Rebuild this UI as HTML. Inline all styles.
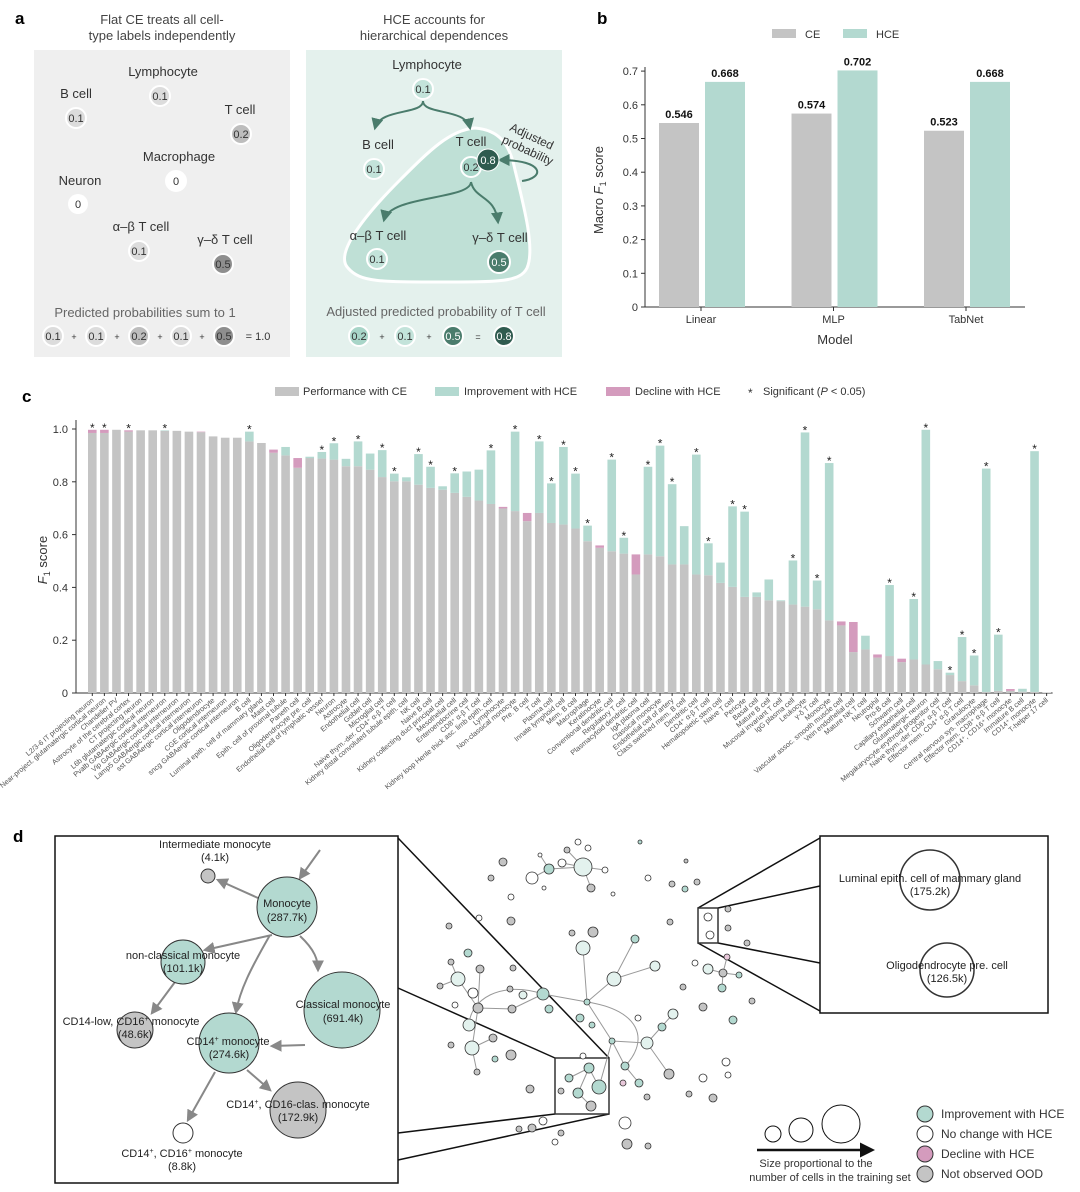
<!DOCTYPE html>
<html><head><meta charset="utf-8">
<style>
body{margin:0;background:#fff;}
svg{display:block;font-family:"Liberation Sans",sans-serif;}
.pl{font-weight:bold;font-size:17px;fill:#000}
.t{fill:#333}
</style></head>
<body>
<svg id="fig" width="1080" height="1192" viewBox="0 0 1080 1192">
<defs>
<marker id="ar" viewBox="0 0 10 10" refX="8" refY="5" markerWidth="6" markerHeight="6" orient="auto-start-reverse"><path d="M0,0L10,5L0,10z" fill="#4a7c6c"/></marker>
<marker id="ag" viewBox="0 0 10 10" refX="8" refY="5" markerWidth="6" markerHeight="6" orient="auto"><path d="M0,0L10,5L0,10z" fill="#888"/></marker>
<marker id="ak" viewBox="0 0 10 10" refX="8" refY="5" markerWidth="6" markerHeight="6" orient="auto"><path d="M0,0L10,5L0,10z" fill="#111"/></marker>
</defs>

<!-- Panel a -->
<g>
<text class="pl" x="15" y="24">a</text>
<text x="162" y="24" text-anchor="middle" font-size="13" fill="#444">Flat CE treats all cell-</text>
<text x="162" y="40" text-anchor="middle" font-size="13" fill="#444">type labels independently</text>
<rect x="34" y="50" width="256" height="307" fill="#efefef"/>
<g font-size="13" fill="#333" text-anchor="middle">
<text x="163" y="76">Lymphocyte</text><circle cx="160" cy="96" r="10" fill="#dcdcdc" stroke="#fff" stroke-width="2"/><text x="160" y="100" font-size="11">0.1</text>
<text x="76" y="98">B cell</text><circle cx="76" cy="118" r="10" fill="#dcdcdc" stroke="#fff" stroke-width="2"/><text x="76" y="122" font-size="11">0.1</text>
<text x="240" y="114">T cell</text><circle cx="241" cy="134" r="10" fill="#bdbdbd" stroke="#fff" stroke-width="2"/><text x="241" y="138" font-size="11">0.2</text>
<text x="179" y="161">Macrophage</text><circle cx="176" cy="181" r="10" fill="#fff" stroke="#fff" stroke-width="2"/><text x="176" y="185" font-size="11">0</text>
<text x="80" y="185">Neuron</text><circle cx="78" cy="204" r="10" fill="#fff"/><text x="78" y="208" font-size="11">0</text>
<text x="141" y="231">α–β T cell</text><circle cx="139" cy="251" r="10" fill="#dcdcdc" stroke="#fff" stroke-width="2"/><text x="139" y="255" font-size="11">0.1</text>
<text x="225" y="244">γ–δ T cell</text><circle cx="223" cy="264" r="10" fill="#8e8e8e" stroke="#fff" stroke-width="2"/><text x="223" y="268" font-size="11">0.5</text>
<text x="145" y="317" fill="#666">Predicted probabilities sum to 1</text>
</g>
<g font-size="11" text-anchor="middle" fill="#333">
<circle cx="53" cy="336" r="10" fill="#dcdcdc" stroke="#fff" stroke-width="2"/><text x="53" y="340">0.1</text><text x="74" y="340" font-size="9">+</text>
<circle cx="96" cy="336" r="10" fill="#dcdcdc" stroke="#fff" stroke-width="2"/><text x="96" y="340">0.1</text><text x="117" y="340" font-size="9">+</text>
<circle cx="139" cy="336" r="10" fill="#bdbdbd" stroke="#fff" stroke-width="2"/><text x="139" y="340">0.2</text><text x="160" y="340" font-size="9">+</text>
<circle cx="181" cy="336" r="10" fill="#dcdcdc" stroke="#fff" stroke-width="2"/><text x="181" y="340">0.1</text><text x="202" y="340" font-size="9">+</text>
<circle cx="224" cy="336" r="10" fill="#8e8e8e" stroke="#fff" stroke-width="2"/><text x="224" y="340">0.5</text><text x="258" y="340">= 1.0</text>
</g>
<text x="434" y="24" text-anchor="middle" font-size="13" fill="#444">HCE accounts for</text>
<text x="434" y="40" text-anchor="middle" font-size="13" fill="#444">hierarchical dependences</text>
<rect x="306" y="50" width="256" height="307" fill="#e4f1ed"/>
<path d="M400,180 C430,150 450,130 475,128 C500,130 510,145 515,170 C525,210 535,250 527,268 C520,282 500,282 440,282 C380,282 360,282 348,268 C335,255 360,220 400,180Z" fill="#bfe0d6" stroke="#fff" stroke-width="3"/>
<g fill="none" stroke="#4a7c6c" stroke-width="2">
<path d="M423,101 C423,115 380,108 375,128" marker-end="url(#ar)"/>
<path d="M423,101 C423,115 466,108 470,128" marker-end="url(#ar)"/>
<path d="M471,182 C470,200 390,195 384,220" marker-end="url(#ar)"/>
<path d="M471,182 C475,200 495,195 498,222" marker-end="url(#ar)"/>
<path d="M522,181 C545,178 545,160 500,160" marker-end="url(#ar)"/>
</g>
<g font-size="13" fill="#333" text-anchor="middle">
<text x="427" y="69">Lymphocyte</text><circle cx="423" cy="89" r="10" fill="#c3e3da" stroke="#fff" stroke-width="2"/><text x="423" y="93" font-size="11">0.1</text>
<text x="378" y="149">B cell</text><circle cx="374" cy="169" r="10" fill="#c3e3da" stroke="#fff" stroke-width="2"/><text x="374" y="173" font-size="11">0.1</text>
<text x="471" y="146">T cell</text><circle cx="471" cy="167" r="10" fill="#a8d5c8" stroke="#fff" stroke-width="2"/><text x="471" y="171" font-size="11">0.2</text>
<circle cx="488" cy="160" r="11" fill="#2f5b4f" stroke="#fff" stroke-width="1"/><text x="488" y="164" font-size="11" fill="#fff">0.8</text>
<text x="378" y="240">α–β T cell</text><circle cx="377" cy="259" r="10" fill="#c3e3da" stroke="#fff" stroke-width="2"/><text x="377" y="263" font-size="11">0.1</text>
<text x="500" y="242">γ–δ T cell</text><circle cx="499" cy="262" r="11" fill="#4a7c6c" stroke="#fff" stroke-width="2"/><text x="499" y="266" font-size="11" fill="#fff">0.5</text>
<text x="530" y="140" transform="rotate(25 530 140)" font-size="12">Adjusted</text>
<text x="526" y="154" transform="rotate(25 526 154)" font-size="12">probability</text>
<text x="436" y="316" fill="#666">Adjusted predicted probability of T cell</text>
</g>
<g font-size="11" text-anchor="middle" fill="#333">
<circle cx="359" cy="336" r="10" fill="#a8d5c8" stroke="#fff" stroke-width="2"/><text x="359" y="340">0.2</text><text x="382" y="340" font-size="9">+</text>
<circle cx="405" cy="336" r="10" fill="#c3e3da" stroke="#fff" stroke-width="2"/><text x="405" y="340">0.1</text><text x="429" y="340" font-size="9">+</text>
<circle cx="453" cy="336" r="10" fill="#4a7c6c" stroke="#fff" stroke-width="2"/><text x="453" y="340" fill="#fff">0.5</text><text x="478" y="340" font-size="9">=</text>
<circle cx="504" cy="336" r="10" fill="#2f5b4f" stroke="#fff" stroke-width="2"/><text x="504" y="340" fill="#fff">0.8</text>
</g>
</g>

<!-- Panel b -->
<g id="panelB">
<text class="pl" x="597" y="24">b</text>
<rect x="772" y="29" width="24" height="9" fill="#c4c4c4"/>
<text x="805" y="38" font-size="11" fill="#333">CE</text>
<rect x="843" y="29" width="24" height="9" fill="#b3d9d0"/>
<text x="876" y="38" font-size="11" fill="#333">HCE</text>
<text transform="translate(603 190) rotate(-90)" text-anchor="middle" font-size="13" fill="#333">Macro <tspan font-style="italic">F</tspan><tspan font-size="9" dy="3">1</tspan><tspan dy="-3"> score</tspan></text>
<text x="835" y="344" text-anchor="middle" font-size="13" fill="#333">Model</text>
</g>

<!-- Panel c -->
<g id="panelC">
<text class="pl" x="22" y="402">c</text>
<rect x="275" y="387" width="24" height="9" fill="#c4c4c4"/><text x="303" y="395" font-size="11" fill="#333">Performance with CE</text>
<rect x="435" y="387" width="24" height="9" fill="#b3d9d0"/><text x="464" y="395" font-size="11" fill="#333">Improvement with HCE</text>
<rect x="606" y="387" width="24" height="9" fill="#d49bbd"/><text x="635" y="395" font-size="11" fill="#333">Decline with HCE</text>
<text x="748" y="397" font-size="12" fill="#333">*</text><text x="763" y="395" font-size="11" fill="#333">Significant (<tspan font-style="italic">P</tspan> &lt; 0.05)</text>
<text transform="translate(47 560) rotate(-90)" text-anchor="middle" font-size="13" fill="#333"><tspan font-style="italic">F</tspan><tspan font-size="9" dy="3">1</tspan><tspan dy="-3"> score</tspan></text>
</g>

<!-- Panel d -->
<g id="panelD">
<text class="pl" x="13" y="842">d</text>
<rect x="55" y="836" width="343" height="347" fill="#fff" stroke="#111" stroke-width="1.5"/>
<rect x="820" y="836" width="228" height="177" fill="#fff" stroke="#111" stroke-width="1.5"/>
<g stroke="#111" stroke-width="1.5">
<line x1="398" y1="838" x2="609" y2="1058"/><line x1="398" y1="988" x2="555" y2="1058"/>
<line x1="398" y1="1133" x2="555" y2="1114"/><line x1="398" y1="1160" x2="609" y2="1114"/>
<line x1="698" y1="908" x2="820" y2="838"/><line x1="718" y1="908" x2="820" y2="886"/>
<line x1="718" y1="943" x2="820" y2="963"/><line x1="698" y1="943" x2="820" y2="1011"/>
</g>
<rect x="555" y="1058" width="54" height="56" fill="none" stroke="#333" stroke-width="1.5"/>
<rect x="698" y="908" width="20" height="35" fill="none" stroke="#333" stroke-width="1.5"/>
<g stroke="#999" stroke-width="1" fill="none">
<path d="M583,867 L549,869 M583,867 L591,888 M583,867 L562,863 M583,867 L567,850 M583,867 L605,870 M549,869 L532,878 M549,869 L540,855"/>
<path d="M583,948 L587,1002 M614,979 L587,1002 M635,939 L614,979 M655,966 L614,979 M587,1002 L612,1041 M612,1041 L647,1043 M647,1043 L673,1014 M647,1043 L669,1074 M612,1041 L625,1066 M625,1066 L639,1083 M612,1041 L599,1087"/>
<path d="M543,994 C500,980 470,1000 469,1025 M543,994 L512,1009 M478,1008 L458,979 M478,1008 L472,1048 M478,1008 L512,1009 M472,1048 L493,1038 M472,1048 L477,1072 M458,979 L440,986 M458,979 L451,962 M480,969 L478,1008 M543,994 L587,1002 M587,1002 C640,1010 650,1040 625,1066"/>
<path d="M589,1068 L578,1093 M589,1068 L599,1087 M589,1068 L569,1078 M578,1093 L591,1106 M708,969 L723,973 L739,975 M723,973 L722,988 M723,973 L727,957"/>
</g>
<g id="netNodes" stroke="#333" stroke-width="0.8"></g>
<!-- zoomed monocyte subtree -->
<g fill="none" stroke="#888" stroke-width="2">
<path d="M320,850 L300,878" marker-end="url(#ag)"/>
<path d="M258,898 L218,880" marker-end="url(#ag)"/>
<path d="M272,935 L205,950" marker-end="url(#ag)"/>
<path d="M300,936 C315,950 318,960 318,970" marker-end="url(#ag)"/>
<path d="M270,935 C250,970 240,990 236,1012" marker-end="url(#ag)"/>
<path d="M175,982 L152,1013" marker-end="url(#ag)"/>
<path d="M305,1045 L272,1046" marker-end="url(#ag)"/>
<path d="M247,1070 L270,1090" marker-end="url(#ag)"/>
<path d="M215,1072 L188,1120" marker-end="url(#ag)"/>
</g>
<g stroke="#333" stroke-width="1">
<circle cx="208" cy="876" r="7" fill="#c4c4c4"/>
<circle cx="287" cy="907" r="30" fill="#b3d9d0"/>
<circle cx="183" cy="962" r="22" fill="#b3d9d0"/>
<circle cx="342" cy="1010" r="38" fill="#b3d9d0"/>
<circle cx="135" cy="1030" r="18" fill="#c4c4c4"/>
<circle cx="229" cy="1043" r="30" fill="#b3d9d0"/>
<circle cx="298" cy="1110" r="28" fill="#c4c4c4"/>
<circle cx="183" cy="1133" r="10" fill="#fff"/>
<circle cx="930" cy="880" r="30" fill="#fff" stroke-width="1.5"/>
<circle cx="947" cy="970" r="27" fill="#fff" stroke-width="1.5"/>
</g>
<g font-size="11" fill="#222" text-anchor="middle">
<text x="215" y="848">Intermediate monocyte</text><text x="215" y="861">(4.1k)</text>
<text x="287" y="907">Monocyte</text><text x="287" y="921">(287.7k)</text>
<text x="183" y="959">non-classical monocyte</text><text x="183" y="972">(101.1k)</text>
<text x="343" y="1008">Classical monocyte</text><text x="343" y="1022">(691.4k)</text>
<text x="131" y="1025">CD14-low, CD16<tspan font-size="7" dy="-4">+</tspan><tspan dy="4"> monocyte</tspan></text><text x="135" y="1038">(48.6k)</text>
<text x="228" y="1045">CD14<tspan font-size="7" dy="-4">+</tspan><tspan dy="4"> monocyte</tspan></text><text x="229" y="1058">(274.6k)</text>
<text x="298" y="1108">CD14<tspan font-size="7" dy="-4">+</tspan><tspan dy="4">, CD16-clas. monocyte</tspan></text><text x="298" y="1121">(172.9k)</text>
<text x="182" y="1157">CD14<tspan font-size="7" dy="-4">+</tspan><tspan dy="4">, CD16</tspan><tspan font-size="7" dy="-4">+</tspan><tspan dy="4"> monocyte</tspan></text><text x="182" y="1170">(8.8k)</text>
<text x="930" y="882">Luminal epith. cell of mammary gland</text><text x="930" y="895">(175.2k)</text>
<text x="947" y="969">Oligodendrocyte pre. cell</text><text x="947" y="982">(126.5k)</text>
</g>
<!-- size legend -->
<g>
<circle cx="773" cy="1134" r="8" fill="#fff" stroke="#111"/>
<circle cx="801" cy="1130" r="12" fill="#fff" stroke="#111"/>
<circle cx="841" cy="1124" r="19" fill="#fff" stroke="#111"/>
<line x1="757" y1="1150" x2="872" y2="1150" stroke="#111" stroke-width="2.5" marker-end="url(#ak)"/>
<text x="816" y="1167" font-size="11" text-anchor="middle" fill="#333">Size proportional to the</text>
<text x="830" y="1181" font-size="11" text-anchor="middle" fill="#333">number of cells in the training set</text>
</g>
<g font-size="12" fill="#333">
<circle cx="925" cy="1114" r="8" fill="#b3d9d0" stroke="#333"/><text x="941" y="1118">Improvement with HCE</text>
<circle cx="925" cy="1134" r="8" fill="#fff" stroke="#333"/><text x="941" y="1138">No change with HCE</text>
<circle cx="925" cy="1154" r="8" fill="#d49bbd" stroke="#333"/><text x="941" y="1158">Decline with HCE</text>
<circle cx="925" cy="1174" r="8" fill="#c4c4c4" stroke="#333"/><text x="941" y="1178">Not observed OOD</text>
</g>
</g>
</svg>

<script>
// ---- Panel b data ----
const bModels = ["Linear", "MLP", "TabNet"];
const bCE = [0.546, 0.574, 0.523];
const bHCE = [0.668, 0.702, 0.668];
const bTicks = [0, 0.1, 0.2, 0.3, 0.4, 0.5, 0.6, 0.7];

// ---- Panel c data ----
const cCategories = ["L2/3-6 IT projecting neuron","Near-project. glutamatergic cortical neuron","Chandelier PV","Astrocyte of the cerebral cortex","CT projecting neuron","L6b glutamatergic cortical neuron","Pvalb GABAergic cortical interneuron","Vip GABAergic cortical interneuron","Lamp5 GABAergic cortical interneuron","sst GABAergic cortical interneuron","Oligodendrocyte","CGE cortical interneuron","sncg GABAergic cortical interneuron","B cell","Luminal epith. cell of mammary gland","Mast cell","Epith. cell of proximal tubule","Paneth cell","Oligodendrocyte pre. cell","Endothelial cell of lymphatic vessel","Neuron","Astrocyte","Endothelial cell","Goblet cell","Microglial cell","Naive thym.-der. CD4⁺ α-β T cell","Kidney distal convoluted tubule epith. cell","NK cell","Naive B cell","Kidney collecting duct principal cell","Mesothelial cell","Enteroendocrine cell","CD8⁺ α-β T cell","Kidney loop Henle thick asc. limb epith. cell","Lymphocyte","Non-classical monocyte","Pre. B cell","T cell","Plasma cell","Innate lymphoid cell","Mem. B cell","Macrophage","Keratinocyte","Conventional dendritic cell","Regulatory T cell","Plasmacytoid dendritic cell","IgA plasma cell","Classical monocyte","Endothelial cell of artery","Class switched mem. B cell","Dendritic cell","CD4⁺ α-β T cell","Hematopoietic stem cell","Naive T cell","Pericyte","Basal cell","Mature B cell","Mucosal invariant T cell","IgG plasma cell","Leukocyte","γ-δ T cell","Monocyte","Vascular assoc. smooth muscle cell","Vein endothelial cell","Mature NK T cell","Neutrophil","Pro-B cell","Schwann cell","Capillary endothelial cell","Glutamatergic neuron","Megakaryocyte-erythroid progenitor cell","Naive thym.-der. CD8⁺ α-β T cell","Effector mem. CD4⁺ α-β T cell","Granulocyte","Central nervous sys. macrophage","Effector mem. CD8⁺ α-β T cell","CD14⁺, CD16⁺ monocyte","Immature B cell","CD14⁺ monocyte","T-helper 17 cell"];
const cCE = [0.997,0.997,0.997,0.995,0.995,0.995,0.993,0.993,0.99,0.99,0.972,0.967,0.967,0.953,0.947,0.922,0.90,0.89,0.89,0.888,0.884,0.859,0.859,0.846,0.818,0.802,0.802,0.789,0.777,0.77,0.758,0.743,0.729,0.716,0.705,0.689,0.682,0.682,0.644,0.638,0.623,0.575,0.559,0.537,0.528,0.525,0.525,0.518,0.487,0.487,0.449,0.446,0.417,0.402,0.364,0.364,0.351,0.348,0.335,0.327,0.317,0.275,0.271,0.269,0.165,0.146,0.14,0.13,0.127,0.108,0.09,0.068,0.045,0.029,0.004,0.008,0.015,0.005,0.004,0.002];
const cHCE = [0.985,0.985,0.997,0.99,0.995,0.995,0.995,0.993,0.99,0.988,0.972,0.967,0.967,0.99,0.947,0.91,0.932,0.853,0.895,0.913,0.946,0.887,0.953,0.907,0.92,0.831,0.817,0.905,0.857,0.783,0.832,0.839,0.846,0.919,0.699,0.99,0.651,0.953,0.794,0.932,0.831,0.634,0.55,0.884,0.588,0.449,0.857,0.937,0.791,0.632,0.903,0.567,0.494,0.707,0.687,0.381,0.43,0.351,0.502,0.987,0.426,0.871,0.256,0.155,0.217,0.134,0.409,0.117,0.356,0.997,0.121,0.077,0.212,0.142,0.85,0.221,0.008,0.016,0.916,0.002];
const cSig = [1,1,0,1,0,0,1,0,0,0,0,0,0,1,0,0,0,0,0,1,1,0,1,0,1,1,0,1,1,0,1,0,0,1,0,1,0,1,1,1,1,1,0,1,1,0,1,1,1,0,1,1,0,1,1,0,0,0,1,1,1,1,0,0,0,0,1,0,1,1,0,1,1,1,1,1,0,0,1,0];
const cTicks = [0, 0.2, 0.4, 0.6, 0.8, 1.0];

const NS = "http://www.w3.org/2000/svg";
function mk(parent, tag, attrs, text) {
  const e = document.createElementNS(NS, tag);
  for (const k in attrs) e.setAttribute(k, attrs[k]);
  if (text !== undefined) e.textContent = text;
  parent.appendChild(e);
  return e;
}
const GRAY = "#c4c4c4", GREEN = "#b3d9d0", PINK = "#d49bbd";

// ---- Panel b drawing ----
(function () {
  const g = document.getElementById("panelB");
  const y0 = 307, k = 337, xL = 645, xR = 1025;
  const yb = v => y0 - v * k;
  const groupX = i => 701 + i * 132.5;
  const ax = mk(g, "line", { x1: xL, y1: y0 - 240, x2: xL, y2: y0, stroke: "#333" });
  
  
  mk(g, "line", { x1: xL, y1: y0, x2: xR, y2: y0, stroke: "#333" });
  bTicks.forEach(t => {
    mk(g, "line", { x1: xL - 4, y1: yb(t), x2: xL, y2: yb(t), stroke: "#333" });
    const tl = mk(g, "text", { x: xL - 7, y: yb(t) + 4, "text-anchor": "end", "font-size": 11, fill: "#333" }, t === 0 ? "0" : t.toFixed(1));
    
    
  });
  bModels.forEach((m, i) => {
    const cx = groupX(i);
    const r1 = mk(g, "rect", { x: cx - 42, y: yb(bCE[i]), width: 40, height: bCE[i] * k, fill: GRAY });
    
    
    const r2 = mk(g, "rect", { x: cx + 4, y: yb(bHCE[i]), width: 40, height: bHCE[i] * k, fill: GREEN });
    
    
    mk(g, "text", { x: cx - 22, y: yb(bCE[i]) - 5, "text-anchor": "middle", "font-size": 11, "font-weight": "bold", fill: "#111" }, bCE[i].toFixed(3));
    mk(g, "text", { x: cx + 24, y: yb(bHCE[i]) - 5, "text-anchor": "middle", "font-size": 11, "font-weight": "bold", fill: "#111" }, bHCE[i].toFixed(3));
    mk(g, "line", { x1: cx, y1: y0, x2: cx, y2: y0 + 4, stroke: "#333" });
    const lb = mk(g, "text", { x: cx, y: y0 + 16, "text-anchor": "middle", "font-size": 11, fill: "#333" }, m);
    
    
  });
})();

// ---- Panel c drawing ----
(function () {
  const g = document.getElementById("panelC");
  const y0 = 693, k = 264, xL = 76, x0 = 92.3, pitch = 12.08, bw = 8.6;
  const yc = v => y0 - v * k;
  const xc = i => x0 + i * pitch;
  mk(g, "line", { x1: xL, y1: 420, x2: xL, y2: y0, stroke: "#333" });
  mk(g, "line", { x1: xL, y1: y0, x2: xc(cCategories.length - 1) + 6, y2: y0, stroke: "#333" });
  cTicks.forEach(t => {
    mk(g, "line", { x1: xL - 4, y1: yc(t), x2: xL, y2: yc(t), stroke: "#333" });
    const tl = mk(g, "text", { x: xL - 8, y: yc(t) + 4, "text-anchor": "end", "font-size": 11, fill: "#333" }, t === 0 ? "0" : t.toFixed(1));
    
    
  });
  cCategories.forEach((c, i) => {
    const x = xc(i), ce = cCE[i], h = cHCE[i];
    const low = Math.min(ce, h);
    const gb = mk(g, "rect", { x: x - bw / 2, y: yc(low), width: bw, height: low * k, fill: GRAY });
    
    
    if (h > ce) {
      const gr = mk(g, "rect", { x: x - bw / 2, y: yc(h), width: bw, height: (h - ce) * k, fill: GREEN });
      
      
    } else if (h < ce) {
      const pr = mk(g, "rect", { x: x - bw / 2, y: yc(ce), width: bw, height: (ce - h) * k, fill: PINK });
      
      
    }
    if (cSig[i]) {
      const st = mk(g, "text", { x: x, y: yc(Math.max(ce, h)) + 2, "text-anchor": "middle", "font-size": 12, fill: "#222" }, "*");
      
      
    }
    mk(g, "line", { x1: x, y1: y0, x2: x, y2: y0 + 3, stroke: "#333" });
    const lb = mk(g, "text", { x: x + 2, y: y0 + 8, "text-anchor": "end", "font-size": 7.2, fill: "#555", transform: "rotate(-40 " + (x + 2) + " " + (y0 + 8) + ")" }, c);
    
    
  });
})();

// ---- Panel d network nodes (illustrative) ----
(function () {
  const g = document.getElementById("netNodes");
  const C = { g: "#b3d9d0", w: "#fff", k: "#c4c4c4", p: "#e8c8da", l: "#e3f2ee" };
  const nodes = [
    [583,867,9,"l"],[549,869,5,"g"],[532,878,6,"w"],[562,863,4,"w"],[591,888,4,"k"],[578,842,3,"w"],[588,848,3,"w"],[567,850,3,"k"],[605,870,3,"w"],[540,855,2,"w"],[503,862,4,"k"],[491,878,3,"k"],[648,878,3,"w"],[672,884,3,"k"],[685,889,3,"g"],[697,882,3,"k"],[613,894,2,"w"],[544,888,2,"w"],
    [458,979,7,"l"],[472,1048,7,"l"],[469,1025,6,"l"],[478,1008,5,"k"],[480,969,4,"k"],[468,953,4,"g"],[473,993,5,"w"],[512,1009,4,"k"],[510,989,3,"k"],[513,968,3,"k"],[543,994,6,"g"],[549,1009,4,"g"],[523,995,4,"l"],[511,1055,5,"k"],[493,1038,4,"k"],[495,1059,3,"g"],[477,1072,3,"k"],[451,1045,3,"k"],[440,986,3,"k"],[451,962,3,"k"],[455,1005,3,"w"],[530,1089,4,"k"],[532,1128,4,"k"],[543,1121,4,"w"],[519,1129,3,"k"],[555,1142,3,"w"],[561,1133,3,"k"],
    [583,948,7,"l"],[593,932,5,"k"],[572,933,3,"k"],[614,979,7,"l"],[635,939,4,"g"],[655,966,5,"l"],[587,1002,3,"g"],[580,1018,4,"g"],[592,1025,3,"g"],[612,1041,3,"g"],[647,1043,6,"l"],[673,1014,5,"l"],[662,1027,4,"g"],[669,1074,5,"k"],[625,1066,4,"g"],[639,1083,4,"g"],[623,1083,3,"p"],[647,1097,3,"k"],[625,1123,6,"w"],[627,1144,5,"k"],[638,1018,3,"w"],[583,1056,3,"w"],
    [589,1068,5,"g"],[599,1087,7,"g"],[578,1093,5,"g"],[569,1078,4,"g"],[591,1106,5,"k"],[561,1091,3,"k"],
    [708,969,5,"l"],[723,973,4,"k"],[739,975,3,"g"],[722,988,4,"g"],[727,957,3,"p"],[695,963,3,"w"],[733,1020,4,"g"],[703,1007,4,"k"],[728,928,3,"k"],[747,943,3,"k"],[728,909,3,"k"],[726,1062,4,"w"],[728,1075,3,"w"],[703,1078,4,"w"],[713,1098,4,"k"],[689,1094,3,"k"],[752,1001,3,"k"],[683,987,3,"k"],[670,922,3,"k"],[640,842,2,"g"],[686,861,2,"k"],[511,921,4,"k"],[449,926,3,"k"],[479,918,3,"w"],[511,897,3,"w"],[708,917,4,"w"],[710,935,4,"w"],[648,1146,3,"k"]
  ];
  nodes.forEach(n => {
    const c = mk(g, "circle", { cx: n[0], cy: n[1], r: n[2], fill: C[n[3]] });
    
    
  });
})();
</script>
</body></html>
